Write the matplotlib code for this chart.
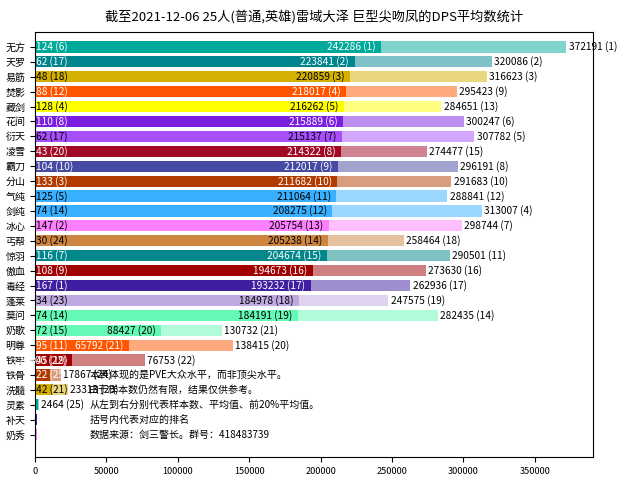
import matplotlib
matplotlib.use('Agg')
import matplotlib.pyplot as plt
import numpy as np

plt.rcParams['font.family'] = ['Noto Sans CJK SC', 'DejaVu Sans']
plt.rcParams['axes.unicode_minus'] = False

# 门派
schools = ['无方', '天罗', '易筋', '焚影', '藏剑', '花间', '衍天', '凌雪', '霸刀',
           '分山', '气纯', '剑纯', '冰心', '丐帮', '惊羽', '傲血', '毒经', '蓬莱',
           '莫问', '奶歌', '明尊', '铁牢', '铁骨', '洗髓', '灵素', '补天', '奶秀']

# 样本数 (排名)
sample_n = [124, 62, 48, 88, 128, 110, 62, 43, 104, 133, 125, 74, 147, 30, 116,
            108, 167, 34, 74, 72, 95, 45, 22, 42, None, None, None]
sample_rank = [6, 17, 18, 12, 4, 8, 17, 20, 10, 3, 5, 14, 2, 24, 7,
               9, 1, 23, 14, 15, 11, 19, 25, 21, None, None, None]

# 平均值 (排名)
avg_dps = [242286, 223841, 220859, 218017, 216262, 215889, 215137, 214322, 212017,
           211682, 211064, 208275, 205754, 205238, 204674, 194673, 193232, 184978,
           184191, 88427, 65792, 25900, 10500, 12000, 2100, 1600, 1300]
avg_rank = [1, 2, 3, 4, 5, 6, 7, 8, 9, 10, 11, 12, 13, 14, 15, 16, 17, 18,
            19, 20, 21, 22, None, None, None, None, None]

# 前20%平均值 (排名)
top_dps = [372191, 320086, 316623, 295423, 284651, 300247, 307782, 274477, 296191,
           291683, 288841, 313007, 298744, 258464, 290501, 273630, 262936, 247575,
           282435, 130732, 138415, 76753, 17867, 23313, 2464, 1600, 1300]
top_rank = [1, 2, 3, 9, 13, 6, 5, 15, 8, 10, 12, 4, 7, 18, 11, 16, 17, 19,
            14, 21, 20, 22, 24, 23, 25, None, None]

colors = ['#00aa9a', '#00858f', '#d4b000', '#ff5500', '#ffff00', '#7b1fe0', '#a64ffa',
          '#a00a24', '#464aa2', '#b23c00', '#38b0ff', '#38b0ff', '#ff80ff', '#cd853f',
          '#00868b', '#a00000', '#3f1fa0', '#c0a8e0', '#64f9b4', '#64f9b4', '#ff5500',
          '#a00000', '#b23c00', '#d4b000', '#00aa9a', '#3f1fa0', '#ff80ff']
text_colors = ['white', 'white', 'black', 'white', 'black', 'white', 'black', 'white',
               'white', 'white', 'black', 'black', 'black', 'black', 'white', 'white',
               'white', 'black', 'black', 'black', 'white', 'white', 'white', 'black',
               'white', 'white', 'black']

notes = ['本表体现的是PVE大众水平，而非顶尖水平。',
         '由于样本数仍然有限，结果仅供参考。',
         '从左到右分别代表样本数、平均值、前20%平均值。',
         '括号内代表对应的排名',
         '数据来源：剑三警长。群号：418483739']

fig = plt.figure(figsize=(6.3, 4.79), dpi=100)
ax = fig.add_axes([35 / 630, 22 / 479, 558 / 630, 425 / 479])

y = np.arange(len(schools))
# 前20%平均值画在后面（浅色），平均值画在前面
ax.barh(y, top_dps, height=0.75, color=colors, alpha=0.5)
ax.barh(y, avg_dps, height=0.75, color=colors)

fs = 7.3
for i in range(len(schools)):
    if sample_n[i] is not None:
        ax.annotate(f'{sample_n[i]} ({sample_rank[i]})', (0, i), xytext=(1, 0),
                    textcoords='offset points', ha='left', va='center',
                    color=text_colors[i], fontsize=fs)
    if avg_rank[i] is not None and avg_dps[i] > 20000:
        ax.annotate(f'{avg_dps[i]} ({avg_rank[i]})', (avg_dps[i], i), xytext=(-4, 0),
                    textcoords='offset points', ha='right', va='center',
                    color=text_colors[i], fontsize=fs)
    if top_rank[i] is not None:
        ax.annotate(f'{top_dps[i]} ({top_rank[i]})', (top_dps[i], i), xytext=(1.5, 0),
                    textcoords='offset points', ha='left', va='center',
                    color='black', fontsize=fs)

# 说明文字
for k, line in enumerate(notes):
    ax.text(38000, 22 + k, line, ha='left', va='center', fontsize=7.2)

ax.set_yticks(y)
ax.set_yticklabels(schools, fontsize=7.2)
ax.set_ylim(27.5, -1)
ax.tick_params(axis='x', labelsize=6.6)
ax.set_title('截至2021-12-06 25人(普通,英雄)雷域大泽 巨型尖吻凤的DPS平均数统计',
             fontsize=9.5, pad=8)

plt.savefig('out.png')
